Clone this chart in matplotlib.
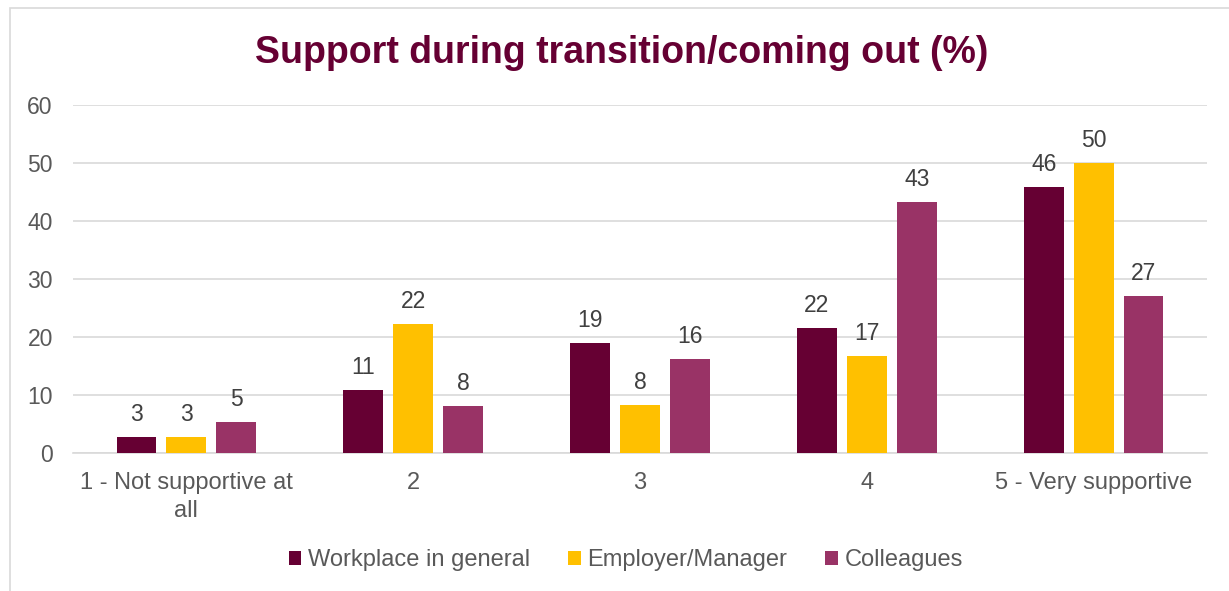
import matplotlib
matplotlib.use("Agg")
import matplotlib.pyplot as plt
from matplotlib.patches import Rectangle
import numpy as np

plt.rcParams['font.family'] = ['Liberation Sans', 'DejaVu Sans']

categories = ["1 - Not supportive at\nall", "2", "3", "4", "5 - Very supportive"]
series_names = ["Workplace in general", "Employer/Manager", "Colleagues"]
workplace = [2.7, 10.8, 18.9, 21.6, 45.9]
employer = [2.7, 22.2, 8.3, 16.7, 50.0]
colleagues = [5.4, 8.1, 16.2, 43.2, 27.0]
colors = ["#660033", "#FFC000", "#993366"]
yticks = [0, 10, 20, 30, 40, 50, 60]

W, H = 1229, 591
fig = plt.figure(figsize=(W / 100, H / 100), dpi=100)
fig.patches.append(Rectangle((10 / W, -0.01), 1.1, 1 - 8 / H + 0.01, transform=fig.transFigure,
                             fill=False, edgecolor="#D9D9D9", linewidth=1.2))

ax = fig.add_axes([73 / W, 1 - 453 / H, (1207 - 73) / W, (453 - 105) / H])
x = np.arange(len(categories))
step = 0.22
width = 0.176
text_color = "#595959"
for i, (vals, name, c) in enumerate(zip([workplace, employer, colleagues], series_names, colors)):
    bars = ax.bar(x + (i - 1) * step, vals, width, color=c, label=name, zorder=3)
    ax.bar_label(bars, fmt="%.0f", padding=8, fontsize=16.5, color="#404040")

ax.set_xlim(-0.5, len(categories) - 0.5)
ax.set_ylim(0, 60)
ax.set_yticks(yticks)
ax.set_xticks(x)
ax.set_xticklabels(categories, fontsize=17, color=text_color, linespacing=1.35)
ax.tick_params(axis='y', labelsize=16.5, labelcolor=text_color, length=0, pad=14.5)
ax.tick_params(axis='x', length=0, pad=14)
ax.yaxis.grid(True, color="#D9D9D9", linewidth=1.2, zorder=0)
for s in ["top", "right", "left"]:
    ax.spines[s].set_visible(False)
ax.spines["bottom"].set_color("#D9D9D9")
ax.spines["bottom"].set_linewidth(1.2)

fig.text(622 / W, 1 - 53 / H, "Support during transition/coming out (%)", ha="center", va="center",
         fontsize=27, fontweight="bold", color="#660033")

leg = fig.legend(loc="center", bbox_to_anchor=(626 / W, 1 - 560 / H), ncol=3, frameon=False,
                 fontsize=17, handlelength=0.52, handleheight=0.52, handletextpad=0.3,
                 columnspacing=1.6)
for t in leg.get_texts():
    t.set_color(text_color)

fig.savefig("out.png", dpi=100)
